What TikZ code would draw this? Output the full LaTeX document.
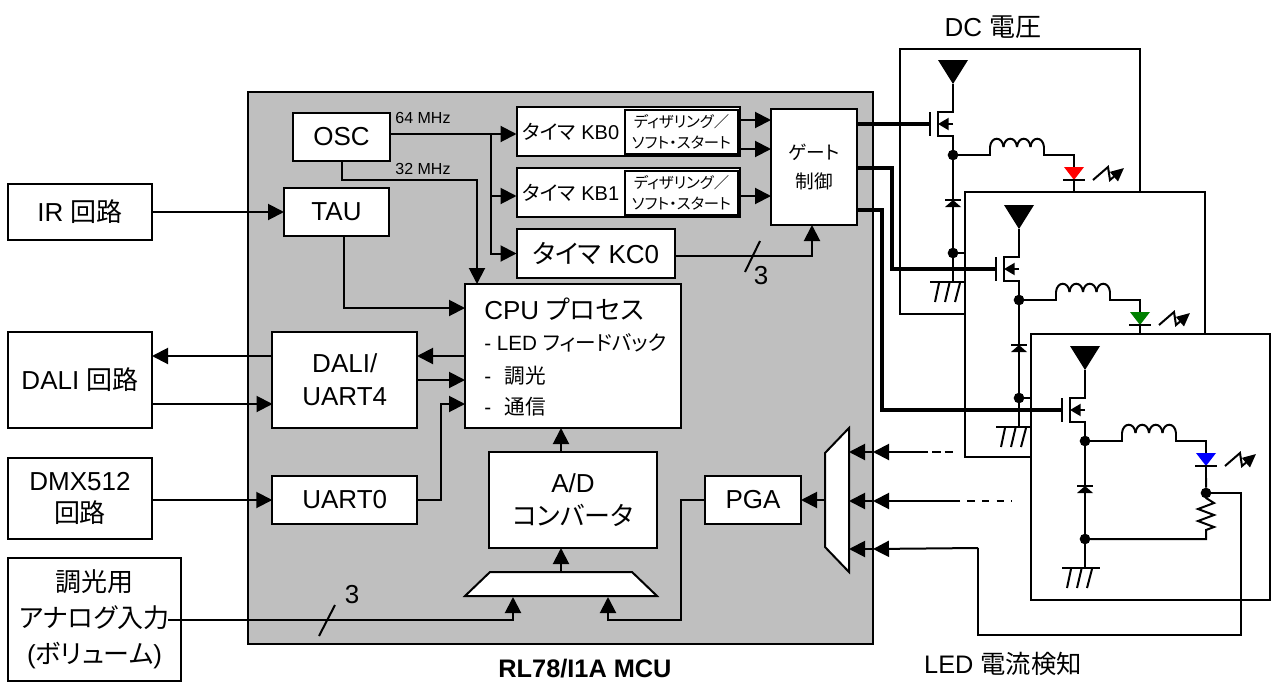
\documentclass[tikz,border=0pt]{standalone}
\usepackage{fontspec}
\setmainfont{Liberation Sans}
\newfontfamily\jpfont[RawFeature=+palt]{Noto Sans CJK JP}
\usetikzlibrary{
    arrows.meta,
    calc
}
\definecolor{mcugray}{RGB}{191,191,191}
\tikzset{
  box/.style 2 args = {draw, fill=white, line width=1.5pt, inner sep=0pt, outer sep=0pt,
                    minimum width=#1*0.75pt, minimum height=#2*0.75pt,
                    align=center, font=\fontsize{19.5}{24.5}\selectfont},
  lbl/.style     = {inner sep=0pt, font=\fontsize{19.5}{24.5}\selectfont},
  tmr/.style     = {inner sep=0pt, font=\fontsize{15}{18}\selectfont},
  dth/.style     = {font=\fontsize{11.5}{16}\selectfont},
  cpul/.style    = {inner sep=0pt, anchor=west, font=\fontsize{15.5}{18}\selectfont},
  frq/.style     = {inner sep=0pt, font=\fontsize{12}{14}\selectfont},
  wire/.style    = {line width=1.5pt},
  bus/.style     = {line width=3pt},
  arr/.style     = {-{Triangle[length=12pt,width=12pt]}, line width=1.5pt},
  dot/.style     = {circle, fill=black, inner sep=0pt, outer sep=0pt, minimum size=8pt}
}
\newcommand{\ledstage}[4]{
  \begin{scope}[shift={(#2,#3)}, name prefix=#1-]
    \fill (938,60) -- (968,60) -- (953,84) -- cycle;
    \coordinate (vin) at (953,84);
    \coordinate (gate) at (930,124);
    \node[dot] (sw) at (953,155) {};
    \node[dot] (gnd) at (953,253) {};
    \draw[wire] (vin) -- (953,112) -- (938,112) -- (938,136) -- (953,136) -- (sw);
    \draw[wire] (930,112) -- (930,136);
    \draw[wire, -{Triangle[length=8pt,width=9pt]}] (953,124) -- (938,124);
    \draw[wire] (sw) -- (990,155) -- (990,147);
    \foreach \k in {0,...,3}
      \draw[wire] (990+\k*13.5,147) .. controls (991+\k*13.5,136) and (1002.5+\k*13.5,136) .. (1003.5+\k*13.5,147);
    \draw[wire] (1044,147) -- (1044,155) -- (1074,155) -- (1074,167);
    \fill[#4] (1064,167) -- (1084,167) -- (1074,180) -- cycle;
    \draw[wire] (1063,180) -- (1085,180);
    \draw[wire] (1074,180) -- (1074,192);
    \draw[wire, -{Triangle[length=10pt,width=9pt]}] (1093,180) -- (1108,167) -- (1110,180) -- (1124,168);
    \draw[wire] (sw) -- (gnd);
    \draw[wire] (945,200) -- (961,200);
    \fill (953,200) -- (945,207) -- (961,207) -- cycle;
    \draw[wire] (gnd) -- (965,253);
    \draw[wire] (gnd) -- (953,282);
    \draw[wire] (930,282) -- (968,282);
    \foreach \k in {0,1,2}
      \draw[wire] (939+\k*10.5,283) -- (935+\k*10,302);
  \end{scope}
}

\begin{document}
\begin{tikzpicture}[x=0.75pt, y=-0.75pt]
\useasboundingbox (0,0) rectangle (1272,682);

\node[box={625}{552}, fill=mcugray] (mcu) at (560.5,368) {};
\node[lbl, font=\fontsize{19}{24}\selectfont\bfseries] (mcul) at (585,669) {RL78/I1A MCU};

\node[box={97}{48}] (osc) at (341.5,137) {OSC};
\node[box={105}{48}] (tau) at (336.5,212) {TAU};
\node[box={144}{56}] (ir) at (80,212) {IR {\jpfont 回路}};
\node[box={144}{96}] (dalic) at (80,380) {DALI {\jpfont 回路}};
\node[box={144}{81}] (dmx) at (80,498.5) {DMX512\\{\jpfont 回路}};
\node[box={173}{123}] (ana) at (94.5,619.5) {{\jpfont 調光用}\\[2.5pt]{\jpfont アナログ入力}\\[2.5pt]({\jpfont ボリューム})};
\node[box={145}{96}] (dali) at (344.75,380) {DALI/\\UART4};
\node[box={145}{48}] (uart) at (344.75,500) {UART0};
\node[box={216}{144}] (cpu) at (573,356) {};
\node[box={168}{96}] (adc) at (573,500) {A/D\\{\jpfont コンバータ}};
\node[box={96}{48}] (pga) at (753,500) {PGA};

\node[cpul, font=\fontsize{19.5}{24}\selectfont] (cpu1) at (484,309) {CPU {\jpfont プロセス}};
\node[cpul] (cpu2) at (484,343) {- LED {\jpfont フィードバック}};
\node[cpul] (cpu3) at (484,376) {-\hspace{10pt}{\jpfont 調光}};
\node[cpul] (cpu4) at (484,407) {-\hspace{10pt}{\jpfont 通信}};

\node[box={223.5}{49}] (kb0) at (628.25,131.5) {};
\node[tmr] (kb0l) at (571,131.5) {{\jpfont タイマ} KB0};
\node[box={113}{44}, dth] (kb0d) at (681.5,132) {{\jpfont ディザリング／}\\{\jpfont ソフト・スタート}};
\node[box={223.5}{49}] (kb1) at (628.25,192.5) {};
\node[tmr] (kb1l) at (571,192.5) {{\jpfont タイマ} KB1};
\node[box={113}{44}, dth] (kb1d) at (681.5,193) {{\jpfont ディザリング／}\\{\jpfont ソフト・スタート}};
\node[box={158.5}{49}, font=\fontsize{19.5}{24}\selectfont] (kc0) at (595.75,253.5) {{\jpfont タイマ} KC0};
\node[box={86}{116}, font=\fontsize{14}{21.5}\selectfont] (gate) at (814,167) {{\jpfont ゲート}\\{\jpfont 制御}};

\node[frq] (f64) at (423,118) {64 MHz};
\node[frq] (f32) at (423,169) {32 MHz};

\coordinate (oscq) at (390,134);
\coordinate (tap) at (491,134);
\draw[arr] (oscq) -- (oscq -| kb0.west);
\draw[arr] (tap) |- (516.5,196);
\draw[arr] (tap) |- (516.5,278 |- kc0.west);
\draw[arr] (osc.south) |- (477,180) -- (cpu.north -| 477,0);
\draw[arr] (tau.south -| 344,0) |- (465,308);
\draw[arr] (ir) -- (tau);
\draw[arr] (740,120) -- (771,120);
\draw[arr] (740,149) -- (771,149);
\draw[arr] (kb1d.east |- 0,196) -- (771,196);
\coordinate (kcq) at (675,256);
\draw[arr] (kcq) -| (gate.south -| 812,0);
\draw[wire] (745,272) -- (760,241);
\node[lbl] (three1) at (761,276) {3};

\draw[arr] (465,356) -- (417,356);
\draw[arr] (272.5,356) -- (152,356);
\draw[arr] (152,404) -- (272.5,404);
\draw[arr] (417,380) -- (465,380);
\draw[arr] (uart.east) -- (441,500) |- (465,404);
\draw[arr] (152,500) -- (uart.west);
\draw[arr] (adc.north -| 561,0) -- (cpu.south -| 561,0);

\coordinate (anaq) at (168,620);
\coordinate (adm1) at (513,597);
\coordinate (adm2) at (608,597);
\coordinate (adm3) at (561,572);
\draw[wire, fill=white] (490,572) -- (632,572) -- (657,596) -- (465,596) -- cycle;
\draw[arr] (anaq) -| (adm1);
\draw[wire] (319,636) -- (335,605);
\node[lbl] (three2) at (352,595) {3};
\draw[arr] (pga.west) -- (681,500) |- (608,620) -- (adm2);
\draw[arr] (adm3) -- (adc.south -| adm3);

\draw[wire, fill=white] (825,453) -- (849,428) -- (849,572) -- (825,547) -- cycle;
\draw[arr] (825,500) -- (pga.east);

\node[box={240}{265}] (p1) at (1020,181.5) {};
\ledstage{s1}{0}{0}{red}
\node[box={240}{265}] (p2) at (1085,324.5) {};
\ledstage{s2}{66}{145}{green!50!black}
\node[box={239}{266}] (p3) at (1150.5,467) {};
\ledstage{s3}{132}{286}{blue}

\node[dot] (rtop) at (1206,493) {};
\draw[wire] (1206,478) -- (rtop) -- (1206,498) -- (1214,503) -- (1198,509) -- (1214,515) -- (1198,521) -- (1214,527) -- (1206,530) -- (1206,539) -- (s3-gnd);
\coordinate (senseq) at (978,548);
\draw[wire] (rtop) -- (1241,493) -- (1241,635) -- (978,635) -- (senseq);
\draw[arr] (senseq) -- (873,549);
\draw[arr] (873,549) -- (849,549);

\coordinate (ch2) at (928,452);
\coordinate (ch1) at (960,501);
\draw[arr] (ch2) -- (873,452);
\draw[arr] (873,452) -- (849,452);
\draw[wire, dash pattern=on 6.5pt off 3pt, dash phase=6.5pt] (ch2) -- (955,452);
\draw[arr] (ch1) -- (873,501);
\draw[arr] (873,501) -- (849,501);
\draw[wire, dash pattern=on 5.5pt off 5.5pt, dash phase=5.5pt] (ch1) -- (1012,501);

\draw[bus] (gate.east |- 0,124) -- (s1-gate);
\draw[bus] (gate.east |- 0,168) -- (892,168) |- (s2-gate);
\draw[bus] (gate.east |- 0,210) -- (882,210) |- (s3-gate);

\node[lbl] (dcv) at (993,27) {DC {\jpfont 電圧}};
\node[lbl, font=\fontsize{19}{24}\selectfont] (ledi) at (1003,664) {LED {\jpfont 電流検知}};

\end{tikzpicture}
\end{document}
